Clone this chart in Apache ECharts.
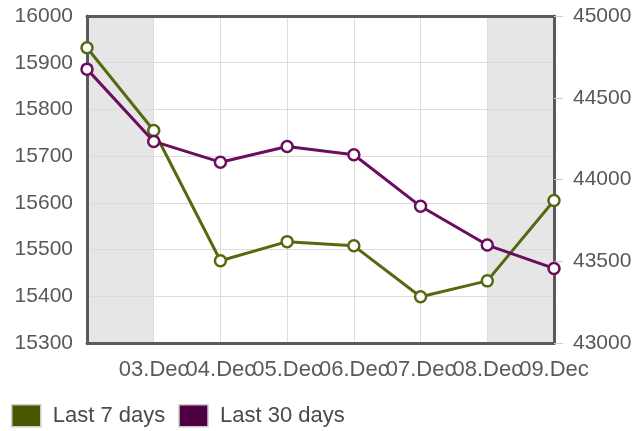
<!DOCTYPE html>
<html>
<head>
<meta charset="utf-8">
<script src="https://cdn.jsdelivr.net/npm/echarts@6/dist/echarts.min.js"></script>
<style>
  html, body { margin: 0; padding: 0; background: #fff; }
  #myLine { width: 643px; height: 431px; }
</style>
</head>
<body>
<div id="myLine"></div>
<script>
  // 数据
  var categories = ['02.Dec', '03.Dec', '04.Dec', '05.Dec', '06.Dec', '07.Dec', '08.Dec', '09.Dec'];
  var last7 = [15932, 15755, 15476, 15517, 15508, 15399, 15433, 15605];
  var last30 = [44675, 44233, 44106, 44202, 44151, 43836, 43599, 43456];
  // weekend bands (first and last interval)
  var bandColors = ['#e6e6e6', 'rgba(0,0,0,0)', 'rgba(0,0,0,0)', 'rgba(0,0,0,0)', 'rgba(0,0,0,0)', 'rgba(0,0,0,0)', '#e6e6e6'];

  var font = 'Liberation Sans, Arial, sans-serif';
  var frame = { show: true, lineStyle: { color: '#5a5a5a', width: 3 } };
  var plain = function (v) { return String(v); };

  var myLine = echarts.init(document.getElementById('myLine'));
  var option = {
    backgroundColor: '#fff',
    animation: false,
    textStyle: { fontFamily: font },
    grid: { left: 87, right: 89, top: 16, bottom: 88, containLabel: false },
    legend: {
      left: 11,
      top: 404,
      padding: 0,
      itemWidth: 29,
      itemHeight: 22,
      itemGap: 13,
      icon: 'rect',
      textStyle: { fontSize: 22, color: '#4a4a4a', fontFamily: font, padding: [0, 0, 0, 7] },
      data: [
        { name: 'Last 7 days', itemStyle: { color: '#4a5500', borderColor: '#ccc', borderWidth: 1.5 } },
        { name: 'Last 30 days', itemStyle: { color: '#4e0042', borderColor: '#ccc', borderWidth: 1.5 } }
      ]
    },
    xAxis: [
      {
        type: 'category',
        data: categories,
        boundaryGap: false,
        z: 0,
        axisLine: frame,
        axisTick: { show: false },
        axisLabel: { color: '#595959', fontSize: 22, margin: 16, interval: 0,
          formatter: function (v, i) { return i === 0 ? '' : v; } },
        splitLine: { show: true, interval: 0, showMinLine: false, showMaxLine: false,
          lineStyle: { color: '#dcdcdc', width: 1 } },
        splitArea: { show: true, interval: 0, areaStyle: { color: bandColors } }
      },
      {
        type: 'category',
        data: categories,
        boundaryGap: false,
        position: 'top',
        z: 2,
        axisLine: frame,
        axisTick: { show: false },
        axisLabel: { show: false }
      }
    ],
    yAxis: [
      {
        type: 'value',
        min: 15300,
        max: 16000,
        interval: 100,
        z: 1,
        axisLine: frame,
        axisTick: { show: false },
        axisLabel: { color: '#595959', fontSize: 21, margin: 14, formatter: plain },
        splitLine: { show: true, showMinLine: false, showMaxLine: false,
          lineStyle: { color: '#dcdcdc', width: 1 } }
      },
      {
        type: 'value',
        min: 43000,
        max: 45000,
        interval: 500,
        position: 'right',
        z: 2,
        axisLine: frame,
        axisTick: { show: true, length: 9, lineStyle: { color: '#ccc', width: 1 } },
        axisLabel: { color: '#595959', fontSize: 21, margin: 19, formatter: plain },
        splitLine: { show: false }
      }
    ],
    series: [
      {
        name: 'Last 7 days',
        type: 'line',
        yAxisIndex: 0,
        data: last7,
        symbol: 'circle',
        symbolSize: 11,
        lineStyle: { color: '#556a10', width: 3 },
        itemStyle: { color: '#fff', borderColor: '#556a10', borderWidth: 2.5 },
        z: 3
      },
      {
        name: 'Last 30 days',
        type: 'line',
        yAxisIndex: 1,
        data: last30,
        symbol: 'circle',
        symbolSize: 11,
        lineStyle: { color: '#6b0e5e', width: 3 },
        itemStyle: { color: '#fff', borderColor: '#6b0e5e', borderWidth: 2.5 },
        z: 4
      }
    ]
  };
  myLine.setOption(option);
</script>
</body>
</html>
